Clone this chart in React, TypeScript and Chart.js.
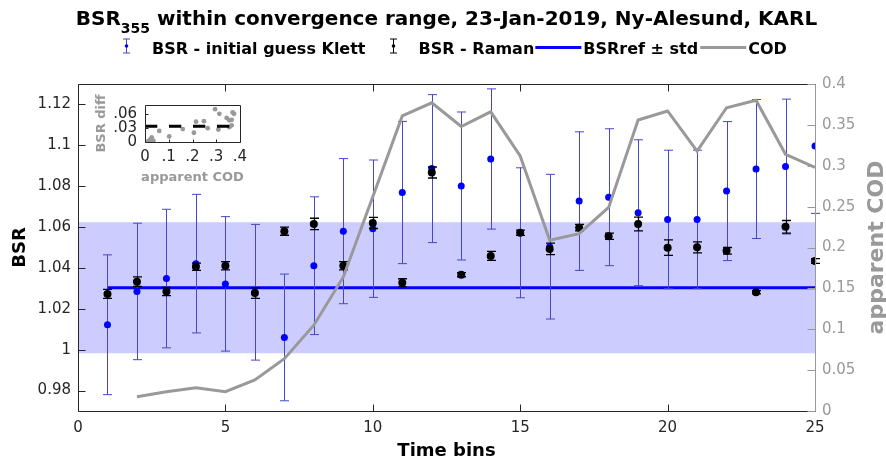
import React, { useEffect, useRef } from 'react';
import { Chart, registerables } from 'chart.js';
Chart.register(...registerables);

const FONT = '"DejaVu Sans", sans-serif';

// ---- main data ----
const timeBins = [1, 2, 3, 4, 5, 6, 7, 8, 9, 10, 11, 12, 13, 14, 15, 16, 17, 18, 19, 20, 21, 22, 23, 24, 25];
const klettBsr = [1.0122, 1.0285, 1.0348, 1.0421, 1.0322, 1.0281, 1.0060, 1.0411, 1.0580, 1.0592, 1.0769, 1.0886, 1.0801, 1.0933, 1.0572, 1.0504, 1.0727, 1.0746, 1.0670, 1.0637, 1.0637, 1.0776, 1.0884, 1.0896, 1.0997];
const klettErr = [0.0342, 0.0334, 0.0339, 0.0339, 0.0329, 0.0332, 0.0310, 0.0337, 0.0355, 0.0336, 0.0348, 0.0362, 0.0362, 0.0343, 0.0318, 0.0354, 0.0339, 0.0335, 0.0357, 0.0339, 0.0339, 0.0340, 0.0340, 0.0330, 0.0330];
const ramanBsr = [1.0273, 1.0333, 1.0285, 1.0406, 1.0411, 1.0277, 1.0580, 1.0615, 1.0411, 1.0620, 1.0327, 1.0867, 1.0367, 1.0459, 1.0572, 1.0493, 1.0597, 1.0555, 1.0615, 1.0499, 1.0501, 1.0484, 1.0281, 1.0601, 1.0434];
const ramanErr = [0.0022, 0.0023, 0.0020, 0.0018, 0.0020, 0.0026, 0.0020, 0.0028, 0.0020, 0.0027, 0.0020, 0.0027, 0.0010, 0.0022, 0.0013, 0.0028, 0.0016, 0.0015, 0.0034, 0.0038, 0.0027, 0.0016, 0.0008, 0.0031, 0.0012];
const codBins = [2, 3, 4, 5, 6, 7, 8, 9, 10, 11, 12, 13, 14, 15, 16, 17, 18, 19, 20, 21, 22, 23, 24, 25];
const codValues = [0.0175, 0.0236, 0.0285, 0.0236, 0.0379, 0.064, 0.105, 0.164, 0.262, 0.361, 0.377, 0.348, 0.366, 0.312, 0.209, 0.217, 0.249, 0.356, 0.367, 0.318, 0.371, 0.380, 0.314, 0.298];
const bsrRef = 1.0303;
const bsrStd = 0.032;
const refBins = [1, 25];
const bandBins = [0, 25];

const xTicks = [0, 5, 10, 15, 20, 25];
const bsrTicks = [0.98, 1, 1.02, 1.04, 1.06, 1.08, 1.1, 1.12];
const codTicks = [0, 0.05, 0.1, 0.15, 0.2, 0.25, 0.3, 0.35, 0.4];

// ---- inset data ----
const insetCod = [0.014, 0.018, 0.024, 0.028, 0.035, 0.060, 0.102, 0.159, 0.206, 0.215, 0.248, 0.264, 0.295, 0.309, 0.313, 0.344, 0.355, 0.355, 0.365, 0.365, 0.369, 0.375];
const insetDiff = [0.002, 0.003, 0.006, 0.010, 0.003, 0.024, 0.012, 0.028, 0.020, 0.044, 0.045, 0.030, 0.071, 0.027, 0.061, 0.052, 0.047, 0.032, 0.036, 0.048, 0.064, 0.061];
const insetThreshold = 0.034;
const insetXTicks = [0, 0.1, 0.2, 0.3, 0.4];
const insetYTicks = [0, 0.03, 0.06];

const title = { main: 'BSR', sub: '355', rest: ' within convergence range, 23-Jan-2019, Ny-Alesund, KARL' };
const legendLabels = ['BSR - initial guess Klett', 'BSR - Raman', 'BSRref ± std', 'COD'];

const fmt = (v: number) => String(Number(v.toFixed(3)));
const fmtShort = (v: number) => fmt(v).replace(/^0\./, '.');

const DARK = '#262626';
const GRAY = '#999999';
const BLUE = '#0000ff';
const ERRBLUE = '#4646c8';

function tickSetter(values: number[]) {
  return (scale: any) => {
    scale.ticks = values.map((v) => ({ value: v }));
  };
}

const mainPlugin = {
  id: 'matlabDeco',
  beforeDatasetDraw(chart: any, args: any) {
    const ds = chart.data.datasets[args.index];
    if (!ds.errors) return;
    const ctx = chart.ctx;
    const xs = chart.scales.x;
    const ys = chart.scales.y;
    const { top, bottom } = chart.chartArea;
    const cap = 4.5;
    ctx.save();
    ctx.strokeStyle = ds.errColor;
    ctx.lineWidth = ds.errWidth;
    ds.data.forEach((p: any, i: number) => {
      const e = ds.errors[i];
      const px = Math.round(xs.getPixelForValue(p.x)) + 0.5;
      const yU = ys.getPixelForValue(p.y + e);
      const yL = ys.getPixelForValue(p.y - e);
      ctx.beginPath();
      ctx.moveTo(px, Math.max(yU, top));
      ctx.lineTo(px, Math.min(yL, bottom));
      if (yU >= top) {
        ctx.moveTo(px - cap, yU);
        ctx.lineTo(px + cap, yU);
      }
      if (yL <= bottom) {
        ctx.moveTo(px - cap, yL);
        ctx.lineTo(px + cap, yL);
      }
      ctx.stroke();
    });
    ctx.restore();
  },
  afterDraw(chart: any) {
    const ctx = chart.ctx;
    const ca = chart.chartArea;
    const xs = chart.scales.x;
    const ys = chart.scales.y;
    const y1 = chart.scales.y1;
    const L = ca.left + 0.5, R = ca.right + 0.5, T = ca.top + 0.5, B = ca.bottom + 0.5;
    const TL = 7;
    ctx.save();
    ctx.lineWidth = 1;
    // box (left, top, bottom)
    ctx.strokeStyle = DARK;
    ctx.beginPath();
    ctx.moveTo(L, B); ctx.lineTo(L, T); ctx.lineTo(R, T);
    ctx.moveTo(L, B); ctx.lineTo(R, B);
    xs.ticks.forEach((t: any) => {
      const px = Math.round(xs.getPixelForValue(t.value)) + 0.5;
      ctx.moveTo(px, T); ctx.lineTo(px, T + TL);
      ctx.moveTo(px, B); ctx.lineTo(px, B - TL);
    });
    ys.ticks.forEach((t: any) => {
      const py = Math.round(ys.getPixelForValue(t.value)) + 0.5;
      ctx.moveTo(L, py); ctx.lineTo(L + TL, py);
    });
    ctx.stroke();
    // right axis
    ctx.strokeStyle = GRAY;
    ctx.beginPath();
    ctx.moveTo(R, T); ctx.lineTo(R, B);
    y1.ticks.forEach((t: any) => {
      const py = Math.round(y1.getPixelForValue(t.value)) + 0.5;
      ctx.moveTo(R, py); ctx.lineTo(R - TL - 1, py);
    });
    ctx.stroke();

    // title
    const cx = (ca.left + ca.right) / 2;
    const fMain = `bold 20px ${FONT}`;
    const fSub = `bold 14px ${FONT}`;
    ctx.fillStyle = '#000';
    ctx.textBaseline = 'alphabetic';
    ctx.textAlign = 'left';
    ctx.font = fMain;
    const w1 = ctx.measureText(title.main).width;
    const w3 = ctx.measureText(title.rest).width;
    ctx.font = fSub;
    const w2 = ctx.measureText(title.sub).width;
    const x0 = cx - (w1 + w2 + w3) / 2;
    ctx.font = fMain;
    ctx.fillText(title.main, x0, 25);
    ctx.font = fSub;
    ctx.fillText(title.sub, x0 + w1, 33);
    ctx.font = fMain;
    ctx.fillText(title.rest, x0 + w1 + w2, 25);

    // legend
    const lineY = 47.5;
    const iconY = 46;
    const textY = 54;
    ctx.font = `bold 16px ${FONT}`;
    ctx.textBaseline = 'alphabetic';
    const errIcon = (x: number, col: string, dot: string, r: number) => {
      ctx.strokeStyle = col;
      ctx.lineWidth = 1;
      ctx.beginPath();
      const xx = Math.round(x) + 0.5;
      ctx.moveTo(xx, iconY - 7); ctx.lineTo(xx, iconY + 7);
      ctx.moveTo(xx - 3.5, iconY - 7); ctx.lineTo(xx + 3.5, iconY - 7);
      ctx.moveTo(xx - 3.5, iconY + 7); ctx.lineTo(xx + 3.5, iconY + 7);
      ctx.stroke();
      ctx.fillStyle = dot;
      ctx.beginPath();
      ctx.arc(xx, iconY, r, 0, Math.PI * 2);
      ctx.fill();
    };
    const lineIcon = (x: number, w: number, col: string) => {
      ctx.strokeStyle = col;
      ctx.lineWidth = 3;
      ctx.beginPath();
      ctx.moveTo(x, lineY); ctx.lineTo(x + w, lineY);
      ctx.stroke();
    };
    let lx = 126;
    errIcon(lx, ERRBLUE, BLUE, 1.8);
    lx = 152;
    ctx.fillStyle = '#000';
    ctx.fillText(legendLabels[0], lx, textY);
    lx += ctx.measureText(legendLabels[0]).width + 27;
    errIcon(lx, '#000', '#000', 1.8);
    lx += 26;
    ctx.fillStyle = '#000';
    ctx.fillText(legendLabels[1], lx, textY);
    lx += ctx.measureText(legendLabels[1]).width + 1;
    lineIcon(lx, 46, BLUE);
    lx += 48;
    ctx.fillStyle = '#000';
    ctx.fillText(legendLabels[2], lx, textY);
    lx += ctx.measureText(legendLabels[2]).width + 2;
    lineIcon(lx, 46, GRAY);
    lx += 48;
    ctx.fillStyle = '#000';
    ctx.fillText(legendLabels[3], lx, textY);

    // axis titles
    ctx.textAlign = 'center';
    ctx.textBaseline = 'alphabetic';
    ctx.fillStyle = '#000';
    ctx.font = `bold 18px ${FONT}`;
    ctx.fillText('Time bins', cx, 456);
    ctx.save();
    ctx.translate(25, (ca.top + ca.bottom) / 2);
    ctx.rotate(-Math.PI / 2);
    ctx.fillText('BSR', 0, 0);
    ctx.restore();
    ctx.save();
    ctx.translate(883, (ca.top + ca.bottom) / 2);
    ctx.rotate(-Math.PI / 2);
    ctx.fillStyle = GRAY;
    ctx.font = `bold 22px ${FONT}`;
    ctx.fillText('apparent COD', 0, 0);
    ctx.restore();
    ctx.restore();
  },
};

const insetPlugin = {
  id: 'insetDeco',
  beforeDraw(chart: any) {
    const ctx = chart.ctx;
    const ca = chart.chartArea;
    ctx.save();
    ctx.fillStyle = '#fff';
    ctx.fillRect(ca.left, ca.top, ca.right - ca.left, ca.bottom - ca.top);
    ctx.restore();
  },
  afterDraw(chart: any) {
    const ctx = chart.ctx;
    const ca = chart.chartArea;
    const xs = chart.scales.x;
    const ys = chart.scales.y;
    const L = ca.left + 0.5, R = ca.right + 0.5, T = ca.top + 0.5, B = ca.bottom + 0.5;
    ctx.save();
    ctx.strokeStyle = DARK;
    ctx.lineWidth = 1;
    ctx.beginPath();
    ctx.rect(L, T, R - L, B - T);
    xs.ticks.forEach((t: any) => {
      const px = Math.round(xs.getPixelForValue(t.value)) + 0.5;
      ctx.moveTo(px, B); ctx.lineTo(px, B - 3);
    });
    ys.ticks.forEach((t: any) => {
      const py = Math.round(ys.getPixelForValue(t.value)) + 0.5;
      ctx.moveTo(L, py); ctx.lineTo(L + 3, py);
    });
    ctx.stroke();
    ctx.fillStyle = GRAY;
    ctx.font = `bold 13px ${FONT}`;
    ctx.textAlign = 'center';
    ctx.textBaseline = 'alphabetic';
    ctx.fillText('apparent COD', (ca.left + ca.right) / 2, 93);
    ctx.save();
    ctx.translate(17, (ca.top + ca.bottom) / 2);
    ctx.rotate(-Math.PI / 2);
    ctx.fillText('BSR diff', 0, 0);
    ctx.restore();
    ctx.restore();
  },
};

export default function App() {
  const mainRef = useRef<HTMLCanvasElement>(null);
  const insetRef = useRef<HTMLCanvasElement>(null);

  useEffect(() => {
    document.body.style.margin = '0';
    const tickFont = { family: FONT, size: 15 };
    const main = new Chart(mainRef.current as HTMLCanvasElement, {
      type: 'scatter',
      data: {
        datasets: [
          {
            type: 'scatter',
            label: legendLabels[1],
            data: timeBins.map((x, i) => ({ x, y: ramanBsr[i] })),
            backgroundColor: '#000',
            borderWidth: 0,
            pointRadius: 4,
            clip: 0,
            order: 1,
            errors: ramanErr,
            errColor: '#000',
            errWidth: 1.3,
          } as any,
          {
            type: 'scatter',
            label: legendLabels[0],
            data: timeBins.map((x, i) => ({ x, y: klettBsr[i] })),
            backgroundColor: BLUE,
            borderWidth: 0,
            pointRadius: 3.5,
            clip: 0,
            order: 2,
            errors: klettErr,
            errColor: ERRBLUE,
            errWidth: 1,
          } as any,
          {
            type: 'line',
            label: 'COD',
            data: codBins.map((x, i) => ({ x, y: codValues[i] })),
            yAxisID: 'y1',
            borderColor: GRAY,
            borderWidth: 3,
            pointRadius: 0,
            fill: false,
            order: 0,
          } as any,
          {
            type: 'line',
            label: 'BSRref',
            data: refBins.map((x) => ({ x, y: bsrRef })),
            borderColor: BLUE,
            borderWidth: 3,
            pointRadius: 0,
            fill: false,
            order: 3,
          } as any,
          {
            type: 'line',
            label: 'band low',
            data: bandBins.map((x) => ({ x, y: bsrRef - bsrStd })),
            borderWidth: 0,
            borderColor: 'rgba(0,0,0,0)',
            pointRadius: 0,
            fill: false,
            order: 5,
          } as any,
          {
            type: 'line',
            label: 'band high',
            data: bandBins.map((x) => ({ x, y: bsrRef + bsrStd })),
            borderWidth: 0,
            borderColor: 'rgba(0,0,0,0)',
            backgroundColor: 'rgba(0,0,255,0.2)',
            pointRadius: 0,
            fill: '-1',
            order: 4,
          } as any,
        ],
      },
      options: {
        animation: false,
        responsive: false,
        events: [],
        layout: { padding: { top: 84, left: 0, right: 0, bottom: 0 } },
        plugins: { legend: { display: false }, title: { display: false }, tooltip: { enabled: false } },
        scales: {
          x: {
            type: 'linear',
            position: 'bottom',
            min: 0,
            max: 25,
            afterBuildTicks: tickSetter(xTicks),
            afterFit: (s: any) => { s.height = 49; },
            grid: { display: false, drawTicks: false },
            border: { display: false },
            ticks: { font: tickFont, color: DARK, padding: 8, maxRotation: 0, autoSkip: false, callback: (v: any) => fmt(Number(v)) },
          },
          y: {
            type: 'linear',
            position: 'left',
            min: 0.97,
            max: 1.13,
            afterBuildTicks: tickSetter(bsrTicks),
            afterFit: (s: any) => { s.width = 78; },
            grid: { display: false, drawTicks: false },
            border: { display: false },
            ticks: { font: tickFont, color: DARK, padding: 7, autoSkip: false, callback: (v: any) => fmt(Number(v)) },
          },
          y1: {
            type: 'linear',
            position: 'right',
            min: 0,
            max: 0.4,
            afterBuildTicks: tickSetter(codTicks),
            afterFit: (s: any) => { s.width = 71; },
            grid: { display: false, drawTicks: false },
            border: { display: false },
            ticks: { font: tickFont, color: GRAY, padding: 7, autoSkip: false, callback: (v: any) => fmt(Number(v)) },
          },
        },
      } as any,
      plugins: [mainPlugin],
    });

    const inset = new Chart(insetRef.current as HTMLCanvasElement, {
      type: 'scatter',
      data: {
        datasets: [
          {
            type: 'line',
            label: 'threshold',
            data: [{ x: insetXTicks[0], y: insetThreshold }, { x: insetXTicks[insetXTicks.length - 1], y: insetThreshold }],
            borderColor: '#000',
            borderWidth: 3,
            borderDash: [12.3, 11.7],
            pointRadius: 0,
            fill: false,
            order: 0,
          } as any,
          {
            type: 'scatter',
            label: 'diff',
            data: insetCod.map((x, i) => ({ x, y: insetDiff[i] })),
            backgroundColor: GRAY,
            borderWidth: 0,
            pointRadius: 2.4,
            order: 1,
          } as any,
        ],
      },
      options: {
        animation: false,
        responsive: false,
        events: [],
        layout: { padding: { top: 10, left: 0, right: 18, bottom: 0 } },
        plugins: { legend: { display: false }, title: { display: false }, tooltip: { enabled: false } },
        scales: {
          x: {
            type: 'linear',
            min: 0,
            max: 0.4,
            afterBuildTicks: tickSetter(insetXTicks),
            afterFit: (s: any) => { s.height = 51; },
            grid: { display: false, drawTicks: false },
            border: { display: false },
            ticks: { font: tickFont, color: DARK, padding: 6, maxRotation: 0, autoSkip: false, callback: (v: any) => fmtShort(Number(v)) },
          },
          y: {
            type: 'linear',
            min: 0,
            max: 0.08,
            afterBuildTicks: tickSetter(insetYTicks),
            afterFit: (s: any) => { s.width = 57; },
            grid: { display: false, drawTicks: false },
            border: { display: false },
            ticks: { font: tickFont, color: DARK, padding: 8, autoSkip: false, callback: (v: any) => fmtShort(Number(v)) },
          },
        },
      } as any,
      plugins: [insetPlugin],
    });

    return () => {
      main.destroy();
      inset.destroy();
    };
  }, []);

  return (
    <div style={{ position: 'fixed', left: 0, top: 0, width: 886, height: 460, background: '#fff' }}>
      <canvas ref={mainRef} width={886} height={460} style={{ position: 'absolute', left: 0, top: 0 }} />
      <canvas ref={insetRef} width={170} height={105} style={{ position: 'absolute', left: 88, top: 88 }} />
    </div>
  );
}
